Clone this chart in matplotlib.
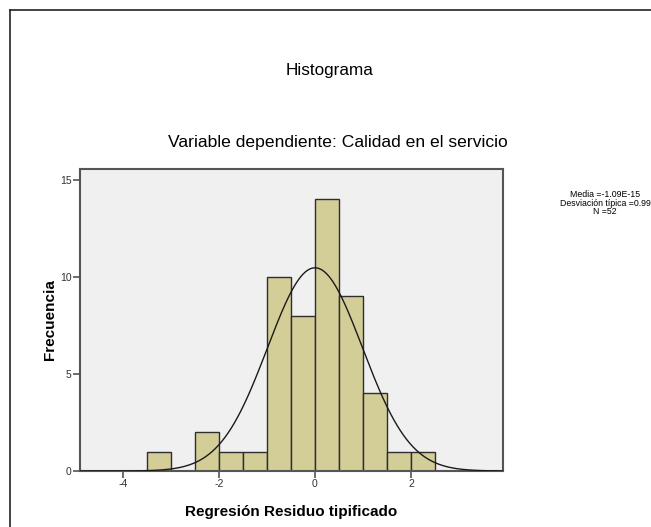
"""Histograma de residuos tipificados (estilo SPSS)."""

import matplotlib
matplotlib.use('Agg')
import matplotlib.pyplot as plt
import numpy as np
from matplotlib.lines import Line2D

plt.rcParams['font.family'] = ['Liberation Sans', 'DejaVu Sans']
plt.rcParams['axes.unicode_minus'] = False

# bins of width 0.5 and their counts
bin_left = [-3.5, -2.5, -2.0, -1.5, -1.0, -0.5, 0.0, 0.5, 1.0, 1.5, 2.0]
counts = [1, 2, 1, 1, 10, 8, 14, 9, 4, 1, 1]
bin_width = 0.5

mean = -1.09e-15
std = 0.99
n = 52

x_ticks = [-4, -2, 0, 2]
y_ticks = [0, 5, 10, 15]

W, H = 651, 527
fig = plt.figure(figsize=(W / 100, H / 100), dpi=100)
fig.patch.set_facecolor('white')

# outer frame (top and left only)
fig.add_artist(Line2D([10 / W, 10 / W], [0, 1 - 10 / H], color='#222222', lw=1.2))
fig.add_artist(Line2D([10 / W, 1], [1 - 10 / H, 1 - 10 / H], color='#222222', lw=1.2))

ax = fig.add_axes([80 / W, 1 - 471 / H, 423 / W, 302 / H])
ax.set_facecolor('#F0F0F0')

ax.bar(bin_left, counts, width=bin_width, align='edge',
       color='#D3CE98', edgecolor='#2E2E2E', linewidth=1.0, zorder=2)

xs = np.linspace(-4.9, 3.95, 400)
curve = n * bin_width * np.exp(-0.5 * ((xs - mean) / std) ** 2) / (std * np.sqrt(2 * np.pi))
ax.plot(xs, curve, color='#1a1a1a', lw=1.0, zorder=3)

ax.set_xlim(-4.9, 3.92)
ax.set_ylim(0, 15.57)
ax.set_xticks(x_ticks)
ax.set_yticks(y_ticks)
ax.tick_params(axis='both', direction='out', length=5, width=1.2,
               color='#555555', labelsize=7.5, labelcolor='#333333', pad=1)
for sp in ax.spines.values():
    sp.set_color('#555555')
    sp.set_linewidth(1.5)

ax.set_xlabel('Regresión Residuo tipificado', fontsize=11, fontweight='bold', labelpad=11)
ax.set_ylabel('Frecuencia', fontsize=11, fontweight='bold', labelpad=2)

fig.text(330 / W, 1 - 70 / H, 'Histograma', ha='center', va='center', fontsize=12.3)
fig.text(338 / W, 1 - 143 / H, 'Variable dependiente: Calidad en el servicio',
         ha='center', va='center', fontsize=12.6)

stats = [
    'Media =%.2fE-15' % (mean * 1e15),
    'Desviación típica =%.2f' % std,
    'N =%d' % n,
]
fig.text(605 / W, 1 - 203 / H, '\n'.join(stats), ha='center', va='center',
         fontsize=6.3, linespacing=0.95)

fig.savefig('out.png', dpi=100)
plt.close()
